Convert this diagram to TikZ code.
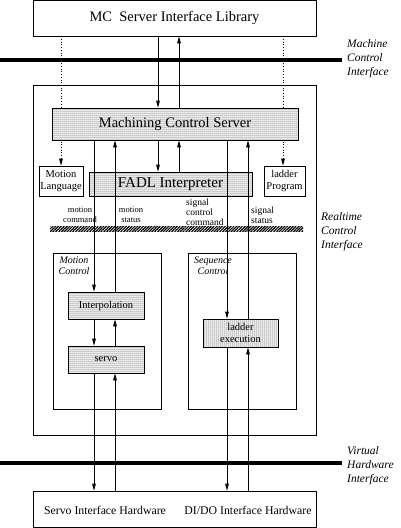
\documentclass[tikz,border=0pt]{standalone}
\usepackage{fontspec}
\setmainfont{Liberation Serif}
\usetikzlibrary{arrows.meta,patterns.meta,backgrounds}

\begin{document}
\begin{tikzpicture}[x=1pt,y=-1pt,
  box/.style={draw,line width=0.7pt,inner sep=0pt,align=center,
              font=\fontsize{10.5}{12}\selectfont},
  dotbox/.style={box,preaction={fill=white},
                 pattern={Dots[distance=2pt,radius=0.5pt]}},
  iface/.style={font=\itshape\fontsize{11.5}{14}\selectfont,align=left,inner sep=0pt},
  grp/.style={font=\itshape\fontsize{10}{11}\selectfont,align=center,inner sep=0pt},
  sig/.style={font=\fontsize{8.5}{10}\selectfont,inner sep=0pt},
  bus/.style={line width=4pt},
  arr/.style={-{Triangle[length=7pt,width=3.6pt]},line width=0.7pt},
  dotarr/.style={arr,dotted},
]
\useasboundingbox (0,0) rectangle (400,528);

% x positions of the vertical signal lines
\coordinate (xa) at (94,0);
\coordinate (xb) at (115,0);
\coordinate (xc) at (158,0);
\coordinate (xd) at (179,0);
\coordinate (xe) at (227,0);
\coordinate (xf) at (248,0);
\coordinate (xg) at (61,0);
\coordinate (xh) at (283,0);

% Boxes
\node[box,minimum width=283pt,minimum height=35.5pt,font=\fontsize{14.5}{16}\selectfont]
  (Lib) at (174.5,18.25) {MC\ \ Server Interface Library};
\node[box,minimum width=283pt,minimum height=350pt] (Outer) at (174.5,260) {};
\node[dotbox,minimum width=246pt,minimum height=32pt,font=\fontsize{14.5}{16}\selectfont]
  (MCS) at (175,124) {Machining Control Server};
\node[box,fill=white,minimum width=44pt,minimum height=30pt] (MotLang) at (61,181) {Motion\\Language};
\node[dotbox,minimum width=163pt,minimum height=24pt,font=\fontsize{15}{17}\selectfont]
  (FADL) at (170.5,184) {FADL Interpreter};
\node[box,fill=white,minimum width=41pt,minimum height=30pt] (LadProg) at (284.5,181) {ladder\\Program};

% Motion / sequence control
\node[box,minimum width=108pt,minimum height=156pt] (MotCtl) at (107,331) {};
\node[box,minimum width=108pt,minimum height=156pt] (SeqCtl) at (242,331) {};
\node[grp,anchor=north] (MotCtlLbl) at (74,257) {Motion\\Control};
\node[grp,anchor=north] (SeqCtlLbl) at (213,257) {Sequence\\Control};
\node[dotbox,minimum width=76pt,minimum height=27pt] (Interp) at (106,305.5) {Interpolation};
\node[dotbox,minimum width=76pt,minimum height=27pt] (Servo) at (106,359.5) {servo};
\node[dotbox,minimum width=75pt,minimum height=28pt] (LadExec) at (240.5,333) {ladder\\execution};

% Hardware
\node[box,minimum width=283pt,minimum height=36pt] (HW) at (174.5,509) {};
\node[font=\fontsize{11.8}{14}\selectfont] (ServoHW) at (105,510) {Servo Interface Hardware};
\node[font=\fontsize{11.8}{14}\selectfont] (DIDOHW) at (248,510) {DI/DO Interface Hardware};

% Interfaces
\node[iface,anchor=west] (MCI) at (347,59) {Machine\\Control\\Interface};
\node[iface,anchor=west] (RCI) at (321,232) {Realtime\\Control\\Interface};
\node[iface,anchor=west] (VHI) at (347,466) {Virtual\\Hardware\\Interface};
\draw[bus] (0,60) -- (342,60);
\draw[bus] (0,463) -- (342,463);
\path[pattern={Lines[angle=45,distance=2pt,line width=1.2pt]}] (50,226.5) rectangle (303,231.5);

% Signal labels
\node[sig,align=center] (MotCmd) at (80,215) {motion\\command};
\node[sig,align=center] (MotSts) at (131,215) {motion\\status};
\node[sig,font=\fontsize{9.5}{10}\selectfont,align=left,anchor=west] (SigCmd) at (186,212) {signal\\control\\command};
\node[sig,font=\fontsize{9.5}{10}\selectfont,align=left,anchor=west] (SigSts) at (251,215) {signal\\status};

% Dotted links behind the server box
\begin{scope}[on background layer]
\draw[dotarr] (Lib.south -| xg) -- (MotLang.north -| xg);
\draw[dotarr] (Lib.south -| xh) -- (LadProg.north -| xh);
\end{scope}

% Arrows
\draw[arr] (Lib.south -| xc) -- (MCS.north -| xc);
\draw[arr] (MCS.north -| xd) -- (Lib.south -| xd);
\draw[arr] (MCS.south -| xa) -- (Interp.north -| xa);
\draw[arr] (Interp.south -| xa) -- (Servo.north -| xa);
\draw[arr] (Servo.south -| xa) -- (HW.north -| xa);
\draw[arr] (Interp.north -| xb) -- (MCS.south -| xb);
\draw[arr] (Servo.north -| xb) -- (Interp.south -| xb);
\draw[arr] (HW.north -| xb) -- (Servo.south -| xb);
\draw[arr] (MCS.south -| xc) -- (FADL.north -| xc);
\draw[arr] (FADL.north -| xd) -- (MCS.south -| xd);
\draw[arr] (MCS.south -| xe) -- (LadExec.north -| xe);
\draw[arr] (LadExec.south -| xe) -- (HW.north -| xe);
\draw[arr] (LadExec.north -| xf) -- (MCS.south -| xf);
\draw[arr] (HW.north -| xf) -- (LadExec.south -| xf);

\end{tikzpicture}
\end{document}
